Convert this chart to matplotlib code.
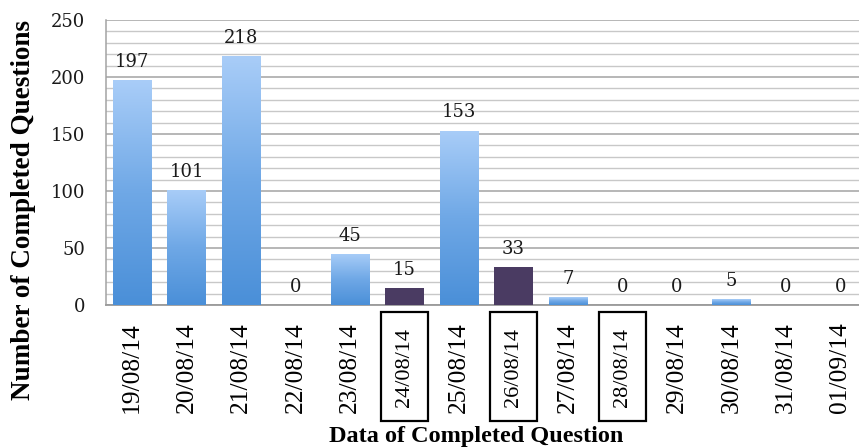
import numpy as np
import matplotlib
matplotlib.use("Agg")
import matplotlib.pyplot as plt
from matplotlib.patches import Rectangle
from matplotlib.colors import LinearSegmentedColormap
import matplotlib.transforms as mtransforms

# Daily counts of completed questions
dates = ["19/08/14", "20/08/14", "21/08/14", "22/08/14", "23/08/14", "24/08/14",
         "25/08/14", "26/08/14", "27/08/14", "28/08/14", "29/08/14", "30/08/14",
         "31/08/14", "01/09/14"]
completed = [197, 101, 218, 0, 45, 15, 153, 33, 7, 0, 0, 5, 0, 0]
dark_days = ["24/08/14", "26/08/14"]
boxed_days = ["24/08/14", "26/08/14", "28/08/14"]
y_ticks = [0, 50, 100, 150, 200, 250]

W, H = 859, 447
fig = plt.figure(figsize=(W / 100, H / 100), dpi=100)
ax = fig.add_axes([106 / W, (H - 305) / H, 753 / W, 285 / H])

x = np.arange(len(dates))
bar_w = 0.71
blue_cmap = LinearSegmentedColormap.from_list("bluegrad", ["#4a8fd8", "#6fa8e6", "#a9cdf8"])
purple = "#4a3b62"

bars = ax.bar(x, completed, width=bar_w, color="none", edgecolor="none", zorder=3)
grad = np.linspace(0, 1, 256).reshape(-1, 1)
for xi, val, d, b in zip(x, completed, dates, bars):
    if val <= 0:
        continue
    if d in dark_days:
        b.set_facecolor(purple)
        continue
    im = ax.imshow(grad, cmap=blue_cmap, origin="lower", aspect="auto",
                   extent=(xi - bar_w / 2, xi + bar_w / 2, 0, val), zorder=3,
                   interpolation="bilinear")
    im.set_clip_path(b)

# value labels above each bar
for xi, val in zip(x, completed):
    ax.annotate(f"{val}", (xi, val), xytext=(0, 9.5), textcoords="offset points",
                ha="center", va="baseline", fontsize=13, family="DejaVu Serif",
                color="#1a1a1a", zorder=4)

ax.set_xlim(-26 / 54.45, (859 - 132.5) / 54.45)
ax.set_ylim(0, 250)
ax.set_yticks(y_ticks)
ax.set_yticks(np.arange(0, 251, 10), minor=True)
ax.grid(which="major", axis="y", color="#a3a3a3", lw=1.1, zorder=0)
ax.grid(which="minor", axis="y", color="#c8c8c8", lw=1.0, zorder=0)
ax.tick_params(axis="y", which="both", length=0, pad=15, labelsize=13, labelcolor="#1a1a1a")
for t in ax.get_yticklabels():
    t.set_family("DejaVu Serif")

ax.set_xticks(x)
ax.set_xticklabels(dates)
ax.tick_params(axis="x", length=0, pad=45)
for t, d in zip(ax.get_xticklabels(), dates):
    t.set_rotation(90)
    t.set_va("center")
    t.set_ha("center")
    t.set_family("Liberation Serif")
    t.set_fontsize(16 if d in boxed_days else 18.4)

# frames around highlighted dates
trans = mtransforms.blended_transform_factory(ax.transData, ax.transAxes)
box_w = 47.6 / 54.45
for xi, d in zip(x, dates):
    if d in boxed_days:
        ax.add_patch(Rectangle((xi - box_w / 2, -0.406), box_w, 0.406 - 0.0235,
                               transform=trans, fill=False, edgecolor="black",
                               lw=1.6, clip_on=False))

for s in ["top", "right"]:
    ax.spines[s].set_visible(False)
ax.spines["left"].set_color("#a3a3a3")
ax.spines["bottom"].set_color("#9a9a9a")
ax.spines["left"].set_linewidth(1.1)
ax.spines["bottom"].set_linewidth(1.3)

ax.set_xlabel("Data of Completed Question", family="Liberation Serif",
              fontweight="bold", fontsize=17.5)
ax.xaxis.label.set_va("baseline")
ax.xaxis.set_label_coords((476.5 - 106) / 753, -(442 - 305) / 285)
ax.set_ylabel("Number of Completed Questions", family="Liberation Serif",
              fontweight="bold", fontsize=19.5)
ax.yaxis.label.set_va("center")
ax.yaxis.set_label_coords((24 - 106) / 753, (305 - 210) / 285)

fig.savefig("out.png", dpi=100, facecolor="white")
